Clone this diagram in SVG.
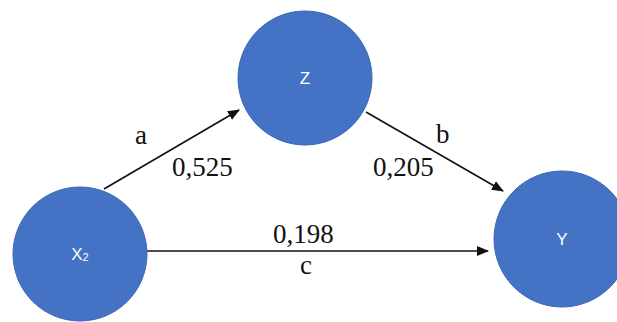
<svg xmlns="http://www.w3.org/2000/svg" width="617" height="322" viewBox="0 0 617 322">
<style>
.node circle{fill:#4472C4;stroke:#3D68B5;stroke-width:1}
.nl{font-family:"Liberation Sans",Arial,sans-serif;font-size:17px;fill:#ffffff;text-anchor:middle}
.el{font-family:"Liberation Serif","Times New Roman",serif;font-size:27px;fill:#111111}
.edges line{stroke:#111111;stroke-width:1.6}
</style>
<defs>
<marker id="ah" markerWidth="12" markerHeight="10" refX="11" refY="5" orient="auto" markerUnits="userSpaceOnUse">
<path d="M0,0 L12,5 L0,10 Z" fill="#111111"/>
</marker>
</defs>
<rect width="617" height="322" fill="#ffffff"/>
<g class="edges">
<line x1="104" y1="189" x2="239" y2="110" marker-end="url(#ah)"/>
<line x1="366" y1="112" x2="503" y2="191" marker-end="url(#ah)"/>
<line x1="147" y1="251" x2="488" y2="251" marker-end="url(#ah)"/>
<text class="el" x="135" y="144">a</text>
<text class="el" x="172" y="176">0,525</text>
<text class="el" x="436" y="143">b</text>
<text class="el" x="373" y="176">0,205</text>
<text class="el" x="273" y="243">0,198</text>
<text class="el" x="300" y="274">c</text>
</g>
<g id="node-z" class="node">
<circle cx="305" cy="78" r="67"/>
<text class="nl" x="305" y="84">Z</text>
</g>
<g id="node-x2" class="node">
<circle cx="80" cy="254" r="67"/>
<text class="nl" x="80" y="260">X<tspan font-size="11" dy="1">2</tspan></text>
</g>
<g id="node-y" class="node">
<circle cx="562" cy="239" r="68"/>
<text class="nl" x="562" y="245">Y</text>
</g>
</svg>
